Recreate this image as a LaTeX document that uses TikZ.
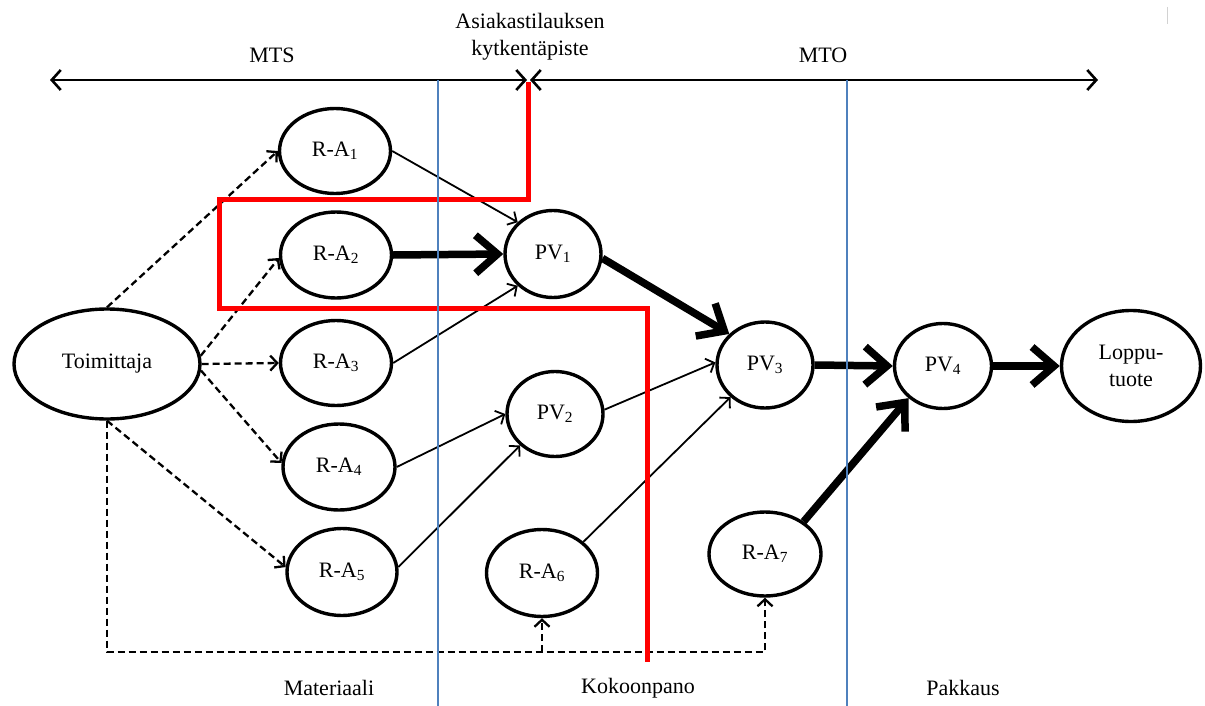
\documentclass[tikz,border=0pt]{standalone}
\usepackage{fontspec}
\setmainfont{Liberation Serif}
\usetikzlibrary{shapes.geometric,arrows.meta}
\definecolor{divider}{HTML}{4F81BD}
\definecolor{decoupling}{HTML}{FF0000}
\begin{document}
\begin{tikzpicture}[x=1pt,y=-1pt,
  every node/.style={font=\fontsize{22}{27}\selectfont, align=center},
  blob/.style={ellipse, draw, line width=3.4pt, fill=white, inner sep=0pt},
  flow/.style={line width=1.8pt, -{Straight Barb[length=7pt,width=15pt]}},
  mainflow/.style={line width=7.5pt, -{Straight Barb[length=22pt,width=38pt]}},
  supply/.style={line width=2.3pt, dash pattern=on 7pt off 4pt},
  supplyarrow/.style={supply, -{Straight Barb[length=7pt,width=15pt]}},
  span/.style={line width=2.6pt, {Straight Barb[length=9pt,width=20pt]}-{Straight Barb[length=9pt,width=20pt]}}
]
\useasboundingbox (0,0) rectangle (1205,706);

% top spans
\coordinate (mtsL) at (50,80);
\coordinate (mtsR) at (527,80);
\coordinate (mtoL) at (530,80);
\coordinate (mtoR) at (1098,80);
\draw[span] (mtsL) -- (mtsR);
\draw[span] (mtoL) -- (mtoR);
\node (mts) at (272,55) {MTS};
\node (mto) at (823,55) {MTO};
\node (cp) at (530,37) {Asiakastilauksen\\kytkentäpiste};
\draw[gray!35, line width=1pt] (1167,7) -- (1167,24);

% nodes
\node[blob, minimum width=186pt, minimum height=110pt] (toim) at (107,364) {Toimittaja};
\node[blob, minimum width=111pt, minimum height=85pt] (ra1) at (335,151) {R-A\textsubscript{1}};
\node[blob, minimum width=111pt, minimum height=86pt] (ra2) at (336,255) {R-A\textsubscript{2}};
\node[blob, minimum width=111pt, minimum height=85pt] (ra3) at (336,363) {R-A\textsubscript{3}};
\node[blob, minimum width=112pt, minimum height=86pt] (ra4) at (339,467) {R-A\textsubscript{4}};
\node[blob, minimum width=110pt, minimum height=87pt] (ra5) at (342,572) {R-A\textsubscript{5}};
\node[blob, minimum width=111pt, minimum height=87pt] (ra6) at (542,573) {R-A\textsubscript{6}};
\node[blob, minimum width=112pt, minimum height=84pt] (ra7) at (765,554) {R-A\textsubscript{7}};
\node[blob, minimum width=96pt, minimum height=87pt] (pv1) at (553,254) {PV\textsubscript{1}};
\node[blob, minimum width=96pt, minimum height=85pt] (pv2) at (555,414) {PV\textsubscript{2}};
\node[blob, minimum width=96pt, minimum height=86pt] (pv3) at (765,365) {PV\textsubscript{3}};
\node[blob, minimum width=97pt, minimum height=85pt] (pv4) at (943,366) {PV\textsubscript{4}};
\node[blob, minimum width=139pt, minimum height=111pt] (loppu) at (1131,366) {Loppu-\\tuote};

% supplier deliveries
\draw[supplyarrow] (toim.north) -- (ra1.west);
\draw[supplyarrow] (toim.5) -- (ra2.183);
\draw[supplyarrow] (toim.east) -- (ra3.west);
\draw[supplyarrow] (toim.-4) -- (ra4.176);
\draw[supplyarrow] (toim.south) -- (ra5.175);
\coordinate (loopbase) at (107,652);
\draw[supplyarrow] (toim.south) -- (loopbase) -| (ra7.south);
\draw[supplyarrow] (ra6.south |- loopbase) -- (ra6.south);

% material flow
\draw[flow] (ra1.east) -- (pv1.138);
\draw[mainflow] (ra2.east) -- (pv1.west);
\draw[flow] (ra3.east) -- (pv1.222);
\draw[flow] (ra4.east) -- (pv2.west);
\draw[flow] (ra5.5) -- (pv2.222);
\draw[flow] (pv2.5) -- (pv3.177);
\draw[flow] (ra6.37) -- (pv3.223);
\draw[mainflow] (pv1.-5) -- (pv3.139);
\draw[mainflow] (pv3.east) -- (pv4.west);
\draw[mainflow] (pv4.east) -- (loppu.west);
\draw[mainflow] (ra7.40) -- (pv4.223);

% customer order decoupling point
\draw[decoupling, line width=5pt, line join=miter]
  (528,82) -- (528,199) -- (219,199) -- (219,308) -- (647,308) -- (647,662);

% stage dividers
\draw[divider, line width=2pt] (437.5,80) -- (437.5,706);
\draw[divider, line width=2pt] (847,80) -- (847,706);

% stage names
\node (mat) at (329,688) {Materiaali};
\node (kok) at (638,688) {Kokoonpano};
\node (pak) at (963,688) {Pakkaus};
\end{tikzpicture}
\end{document}
